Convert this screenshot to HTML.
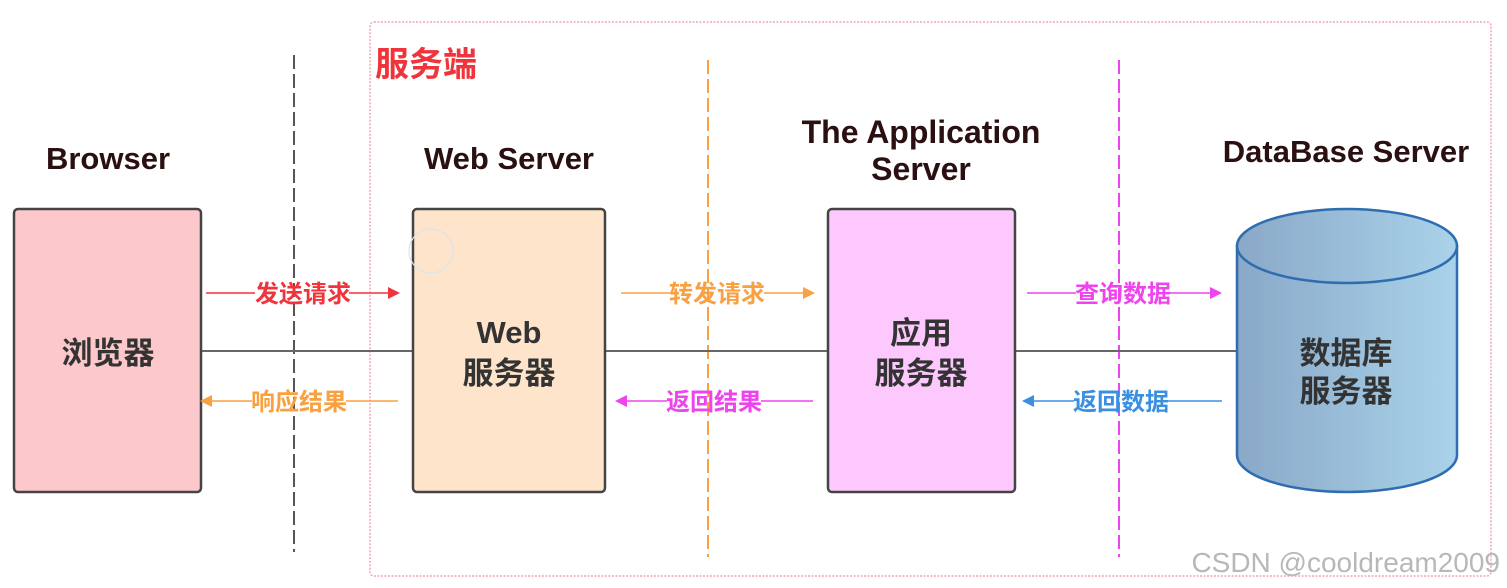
<!DOCTYPE html>
<html><head><meta charset="utf-8"><style>
html,body{margin:0;padding:0;background:#fff;}
svg{display:block;}
text{font-family:"Liberation Sans","Noto Sans CJK SC",sans-serif;font-weight:bold;}
</style></head><body>
<svg width="1507" height="588" viewBox="0 0 1507 588" xmlns="http://www.w3.org/2000/svg">
<defs>
<linearGradient id="cg" x1="0" x2="1" y1="0" y2="0">
<stop offset="0" stop-color="#8aa8c8"/><stop offset="1" stop-color="#a9d3ea"/>
</linearGradient>
</defs>
<rect x="370" y="22" width="1121" height="554" rx="4" fill="none" stroke="#f4a6b0" stroke-width="1.5" stroke-dasharray="2 1.5"/>
<line x1="294" y1="55" x2="294" y2="552" stroke="#555" stroke-width="2" stroke-dasharray="14 5"/>
<line x1="708" y1="60" x2="708" y2="557" stroke="#f9a040" stroke-width="2" stroke-dasharray="14 5"/>
<line x1="1119" y1="60" x2="1119" y2="557" stroke="#ee44ee" stroke-width="2" stroke-dasharray="14 5"/>
<text x="375" y="76" font-size="34" fill="#f0343c">服务端</text>
<text x="108" y="169" font-size="31" fill="#2a1010" text-anchor="middle">Browser</text>
<text x="509" y="169" font-size="31" fill="#2a1010" text-anchor="middle">Web Server</text>
<text x="921" y="143" font-size="32" fill="#2a1010" text-anchor="middle">The Application</text>
<text x="921" y="180" font-size="32" fill="#2a1010" text-anchor="middle">Server</text>
<text x="1346" y="162" font-size="31" fill="#2a1010" text-anchor="middle">DataBase Server</text>
<line x1="201" y1="351" x2="1236" y2="351" stroke="#666" stroke-width="2"/>
<rect x="14" y="209" width="187" height="283" rx="4" fill="#fdc8cb" stroke="#444" stroke-width="2.5"/>
<rect x="413" y="209" width="192" height="283" rx="4" fill="#fde4ca" stroke="#444" stroke-width="2.5"/>
<rect x="828" y="209" width="187" height="283" rx="4" fill="#fdc8fd" stroke="#444" stroke-width="2.5"/>
<path d="M1237 246 L1237 455 A110 37 0 0 0 1457 455 L1457 246 Z" fill="url(#cg)" stroke="#2f6db0" stroke-width="2.5"/>
<ellipse cx="1347" cy="246" rx="110" ry="37" fill="url(#cg)" stroke="#2f6db0" stroke-width="2.5"/>
<text x="108" y="364" font-size="31" fill="#333" text-anchor="middle">浏览器</text>
<text x="509" y="343" font-size="31" fill="#333" text-anchor="middle">Web</text>
<text x="509" y="384" font-size="31" fill="#333" text-anchor="middle">服务器</text>
<text x="921" y="344" font-size="31" fill="#333" text-anchor="middle">应用</text>
<text x="921" y="384" font-size="31" fill="#333" text-anchor="middle">服务器</text>
<text x="1346" y="364" font-size="31" fill="#333" text-anchor="middle">数据库</text>
<text x="1346" y="402" font-size="31" fill="#333" text-anchor="middle">服务器</text>
<g stroke-width="1.5">
<line x1="206" y1="293" x2="255" y2="293" stroke="#f0343c"/><line x1="349" y1="293" x2="388" y2="293" stroke="#f0343c"/>
<polygon points="388,287 400,293 388,299" fill="#f0343c"/>
<line x1="621" y1="293" x2="670" y2="293" stroke="#f9a040"/><line x1="764" y1="293" x2="803" y2="293" stroke="#f9a040"/>
<polygon points="803,287 815,293 803,299" fill="#f9a040"/>
<line x1="1027" y1="293" x2="1076" y2="293" stroke="#ee44ee"/><line x1="1170" y1="293" x2="1210" y2="293" stroke="#ee44ee"/>
<polygon points="1210,287 1222,293 1210,299" fill="#ee44ee"/>
<line x1="212" y1="401" x2="252" y2="401" stroke="#f9a040"/><line x1="346" y1="401" x2="398" y2="401" stroke="#f9a040"/>
<polygon points="212,395 200,401 212,407" fill="#f9a040"/>
<line x1="627" y1="401" x2="667" y2="401" stroke="#ee44ee"/><line x1="761" y1="401" x2="813" y2="401" stroke="#ee44ee"/>
<polygon points="627,395 615,401 627,407" fill="#ee44ee"/>
<line x1="1034" y1="401" x2="1074" y2="401" stroke="#3a8fe0"/><line x1="1168" y1="401" x2="1222" y2="401" stroke="#3a8fe0"/>
<polygon points="1034,395 1022,401 1034,407" fill="#3a8fe0"/>
</g>
<text x="303" y="302" font-size="24" fill="#f0343c" text-anchor="middle">发送请求</text>
<text x="717" y="302" font-size="24" fill="#f9a040" text-anchor="middle">转发请求</text>
<text x="1123" y="302" font-size="24" fill="#ee44ee" text-anchor="middle">查询数据</text>
<text x="299" y="410" font-size="24" fill="#f9a040" text-anchor="middle">响应结果</text>
<text x="714" y="410" font-size="24" fill="#ee44ee" text-anchor="middle">返回结果</text>
<text x="1121" y="410" font-size="24" fill="#3a8fe0" text-anchor="middle">返回数据</text>
<circle cx="431" cy="251" r="22" fill="none" stroke="#dde4ee" stroke-width="1.2"/>
<text x="1500" y="572" font-size="28" fill="#b8b8b8" text-anchor="end" style="font-weight:normal">CSDN @cooldream2009</text>
</svg>
</body></html>
